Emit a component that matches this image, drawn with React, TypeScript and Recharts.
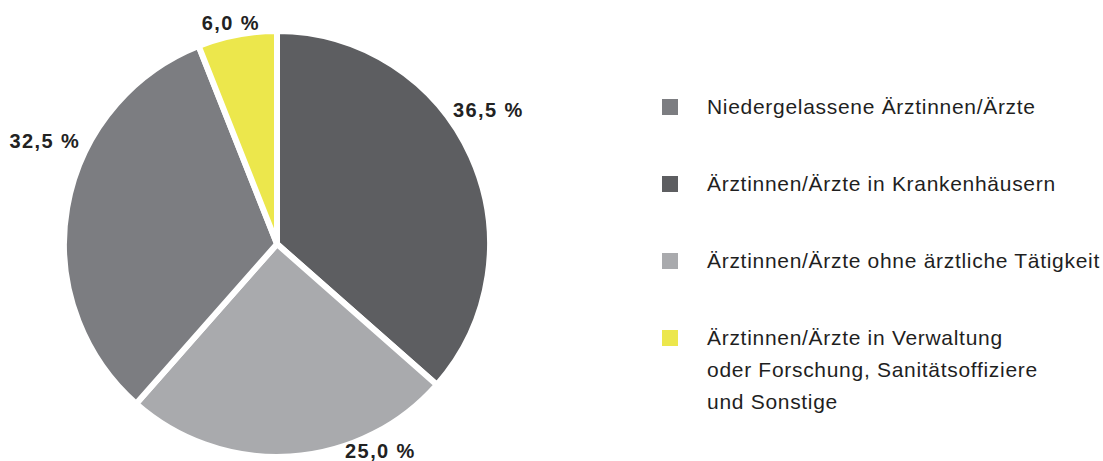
import React from 'react';
import { PieChart, Pie, Cell, Legend } from 'recharts';

const categories = [
  'Ärztinnen/Ärzte in Krankenhäusern',
  'Ärztinnen/Ärzte ohne ärztliche Tätigkeit',
  'Niedergelassene Ärztinnen/Ärzte',
  'Ärztinnen/Ärzte in Verwaltung oder Forschung, Sanitätsoffiziere und Sonstige',
];
const shares = [36.5, 25.0, 32.5, 6.0];
const shareLabels = ['36,5 %', '25,0 %', '32,5 %', '6,0 %'];
const colors = ['#5d5e61', '#a9aaad', '#7c7d81', '#ece74c'];

// legend lists the slices in a different order, some entries wrap
const legendOrder = [2, 0, 1, 3];
const legendLines = [
  ['Ärztinnen/Ärzte in Krankenhäusern'],
  ['Ärztinnen/Ärzte ohne ärztliche Tätigkeit'],
  ['Niedergelassene Ärztinnen/Ärzte'],
  ['Ärztinnen/Ärzte in Verwaltung', 'oder Forschung, Sanitätsoffiziere', 'und Sonstige'],
];

// label placement tweaks (degrees clockwise, px beyond the rim)
const labelShift = [-8, -23, 14, -1];
const labelGap = [37, 18, 41, 13];

const data = categories.map((name, i) => ({ name, value: shares[i] }));

const RAD = Math.PI / 180;

const renderLabel = (props: any) => {
  const { cx, cy, midAngle, outerRadius, index } = props;
  const compass = 90 - midAngle + labelShift[index];
  const r = outerRadius + labelGap[index];
  const x = cx + r * Math.sin(compass * RAD);
  const y = cy - r * Math.cos(compass * RAD);
  return (
    <text
      x={x}
      y={y}
      fill="#222"
      fontSize={20}
      fontWeight={700}
      letterSpacing={1.4}
      textAnchor="middle"
      dominantBaseline="central"
      fontFamily="'Liberation Sans', Arial, sans-serif"
    >
      {shareLabels[index]}
    </text>
  );
};

const renderLegend = () => (
  <div style={{ display: 'flex', flexDirection: 'column', gap: 45 }}>
    {legendOrder.map((i) => (
      <div key={i} style={{ display: 'flex', alignItems: 'flex-start' }}>
        <span
          style={{
            width: 16,
            height: 16,
            marginTop: 8,
            background: colors[i],
            flexShrink: 0,
          }}
        />
        <div style={{ marginLeft: 29 }}>
          {legendLines[i].map((line) => (
            <div
              key={line}
              style={{
                fontSize: 21,
                lineHeight: '32px',
                letterSpacing: 0.7,
                color: '#1f1f1f',
                whiteSpace: 'nowrap',
              }}
            >
              {line}
            </div>
          ))}
        </div>
      </div>
    ))}
  </div>
);

export default function App() {
  return (
    <div
      style={{
        position: 'absolute',
        left: 0,
        top: 0,
        width: 1103,
        height: 461,
        background: '#fff',
        fontFamily: "'Liberation Sans', Arial, sans-serif",
      }}
    >
      <PieChart width={1103} height={461} margin={{ top: 0, right: 0, bottom: 0, left: 0 }}>
        <Pie
          data={data}
          dataKey="value"
          nameKey="name"
          cx={277}
          cy={244}
          outerRadius={213}
          startAngle={90}
          endAngle={-270}
          stroke="#fff"
          strokeWidth={6}
          label={renderLabel}
          labelLine={false}
          isAnimationActive={false}
        >
          {data.map((d, i) => (
            <Cell key={d.name} fill={colors[i]} />
          ))}
        </Pie>
        <Legend
          content={renderLegend}
          wrapperStyle={{ left: 662, top: 91, width: 440 }}
        />
      </PieChart>
    </div>
  );
}
